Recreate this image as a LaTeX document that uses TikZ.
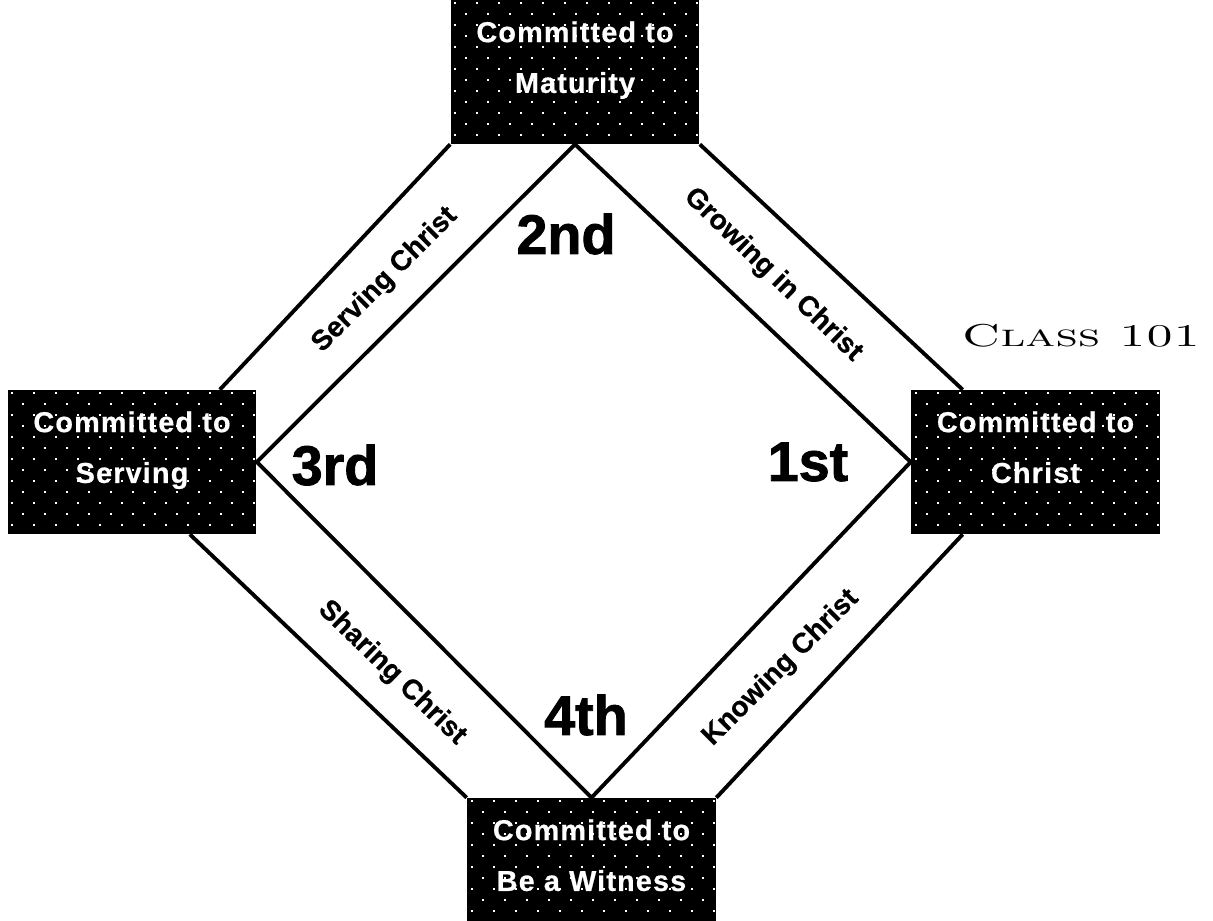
\documentclass[tikz,border=0pt]{standalone}
\usepackage{fontspec}
\usepackage{graphicx}
\setsansfont{Liberation Sans}
\usepackage{tikz}
\usetikzlibrary{positioning, calc}

\begin{document}
\begin{tikzpicture}[
    x=0.02cm, y=-0.02cm,
    stage/.style={rectangle, fill=black, text=white, inner sep=0pt,
        minimum width=4.98cm, minimum height=2.88cm, align=center,
        font=\sffamily\bfseries\fontsize{16.4}{28.9}\selectfont\addfontfeature{LetterSpace=4,FakeBold=0.6},
        text height=40.5pt, text depth=16.7pt},
    dot/.style={fill=white},
    path/.style={font=\sffamily\bfseries\fontsize{16}{18}\selectfont\addfontfeature{FakeBold=0.6}, inner sep=0pt},
    rank/.style={font=\sffamily\bfseries\fontsize{31.7}{36}\selectfont\addfontfeature{FakeBold=1.5}, inner sep=0pt},
    line/.style={line width=2.2pt},
]
\useasboundingbox (0,0) rectangle (1213,920);

% the four commitments
\node[stage] (maturity) at (575,72)  {Committed to\\Maturity};
\node[stage] (christ)   at (1035.5,462) {Committed to\\Christ};
\node[stage] (serving)  at (132,462) {Committed to\\Serving};
\node[stage] (witness)  at (591.5,870) {Committed to\\Be a Witness};

% white dot screen on the boxes
\foreach \b in {maturity,christ,serving,witness} {
    \begin{scope}
    \clip (\b.north west) rectangle (\b.south east);
    \foreach \r in {0,...,13}
        \foreach \c in {0,...,11}
            \fill[dot] ([shift={({\c*22+mod(\r,2)*11+4},{\r*11+2})}]\b.north west) rectangle +(2,2);
    \end{scope}
}

% inner diamond
\draw[line] (maturity.south) -- (christ.west) -- (witness.north) -- (serving.east) -- (maturity.south);

% outer lanes
\draw[line] (maturity.south west) -- ([xshift=-0.74cm]serving.north east);
\draw[line] (maturity.south east) -- ([xshift=1.04cm]christ.north west);
\draw[line] ([xshift=-1.34cm]serving.south east) -- (witness.north west);
\draw[line] ([xshift=1.04cm]christ.south west) -- (witness.north east);

% lane labels
\node[path, rotate=45]  (serve) at (385,280) {Serving Christ};
\node[path, rotate=-44] (grow)  at (773,275) {Growing in Christ};
\node[path, rotate=-44] (share) at (392,673) {Sharing Christ};
\node[path, rotate=45]  (know)  at (781,668) {Knowing Christ};

% order
\node[rank] (second) at (566,234) {2nd};
\node[rank] (third)  at (335,465) {3rd};
\node[rank] (first)  at (808,462) {1st};
\node[rank] (fourth) at (586,715) {4th};

\node[font=\rmfamily\scshape\fontsize{18}{20}\selectfont] (class) at (1081,336) {\scalebox{1.55}[1]{Class 101}};
\end{tikzpicture}
\end{document}
